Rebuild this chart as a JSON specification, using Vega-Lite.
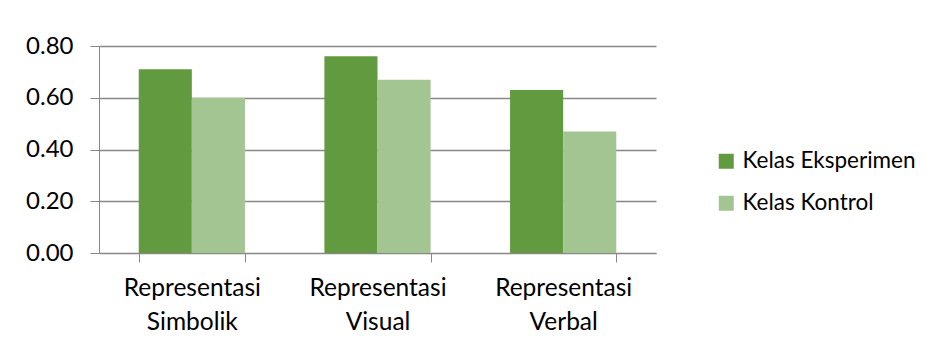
{
  "$schema": "https://vega.github.io/schema/vega-lite/v6.json",
  "autosize": "none",
  "width": 557,
  "height": 207,
  "padding": {"left": 99, "top": 46, "right": 276, "bottom": 92},
  "background": "white",
  "config": {
    "font": "Lato",
    "view": {"stroke": null}
  },
  "data": {
    "values": [
      {"kategori": "Representasi Simbolik", "kelas": "Kelas Eksperimen", "nilai": 0.71},
      {"kategori": "Representasi Simbolik", "kelas": "Kelas Kontrol", "nilai": 0.60},
      {"kategori": "Representasi Visual", "kelas": "Kelas Eksperimen", "nilai": 0.76},
      {"kategori": "Representasi Visual", "kelas": "Kelas Kontrol", "nilai": 0.67},
      {"kategori": "Representasi Verbal", "kelas": "Kelas Eksperimen", "nilai": 0.63},
      {"kategori": "Representasi Verbal", "kelas": "Kelas Kontrol", "nilai": 0.47}
    ]
  },
  "mark": {"type": "bar"},
  "encoding": {
    "x": {
      "field": "kategori",
      "type": "nominal",
      "sort": ["Representasi Simbolik", "Representasi Visual", "Representasi Verbal"],
      "scale": {"paddingInner": 0.428, "paddingOuter": 0.214},
      "axis": {
        "title": null,
        "labelAngle": 0,
        "labelExpr": "split(datum.label, ' ')",
        "labelFontSize": 24.5,
        "labelColor": "black",
        "labelLineHeight": 34,
        "labelPadding": 14,
        "labelLimit": 300,
        "tickBand": "extent",
        "tickSize": 9,
        "tickColor": "#888888",
        "domainColor": "#888888",
        "grid": false
      }
    },
    "xOffset": {"field": "kelas", "type": "nominal"},
    "y": {
      "field": "nilai",
      "type": "quantitative",
      "scale": {"domain": [0, 0.8], "nice": false},
      "axis": {
        "title": null,
        "values": [0, 0.2, 0.4, 0.6, 0.8],
        "format": ".2f",
        "labelFontSize": 24,
        "labelColor": "black",
        "labelPadding": 17,
        "tickSize": 9,
        "tickColor": "#888888",
        "domainColor": "#888888",
        "gridColor": "#888888",
        "gridWidth": 1.3
      }
    },
    "color": {
      "field": "kelas",
      "type": "nominal",
      "scale": {"domain": ["Kelas Eksperimen", "Kelas Kontrol"], "range": ["#629A3F", "#A3C591"]},
      "legend": {
        "title": null,
        "orient": "none",
        "legendX": 616,
        "legendY": 104,
        "symbolType": "square",
        "symbolSize": 225,
        "symbolStrokeWidth": 0,
        "labelFontSize": 22.5,
        "labelColor": "black",
        "labelOffset": 5,
        "labelLimit": 400,
        "rowPadding": 19
      }
    }
  }
}
